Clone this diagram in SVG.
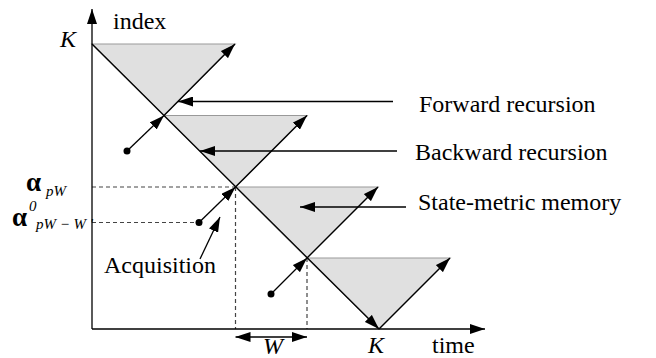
<svg xmlns="http://www.w3.org/2000/svg" width="656" height="358" viewBox="0 0 656 358">
<style>
.t{font-family:"Liberation Serif","Times New Roman",serif;font-size:24px;fill:#000}
.i{font-style:italic}
.a{font-family:"Liberation Serif","Times New Roman",serif;font-size:27px;font-weight:bold}
.s{font-family:"Liberation Serif","Times New Roman",serif;font-size:15px;font-style:italic}
.ln{stroke:#000;stroke-width:1.3;fill:none}
.ar{stroke:#000;stroke-width:1.3;fill:none;marker-end:url(#ah)}
.dash{stroke:#444;stroke-width:1.2;stroke-dasharray:4 3;fill:none}
.tri{fill:#e0e0e0;stroke:#999;stroke-width:1.2}
</style>
<defs>
<marker id="ah" markerUnits="userSpaceOnUse" markerWidth="16" markerHeight="10" refX="15" refY="5" orient="auto">
<path d="M0,0 L15,5 L0,10 z" fill="#000"/>
</marker>
<marker id="as" markerUnits="userSpaceOnUse" markerWidth="16" markerHeight="10" refX="0" refY="5" orient="auto">
<path d="M15,0 L0,5 L15,10 z" fill="#000"/>
</marker>
</defs>
<g id="triangles">
<polygon class="tri" points="92,44 235,44 164,115.5"/>
<polygon class="tri" points="164,115.5 307,115.5 235.5,187"/>
<polygon class="tri" points="235.5,187 378,187 307,258"/>
<polygon class="tri" points="307,258 450,258 379,329"/>
</g>
<g id="connectors">
<line class="dash" x1="92" y1="187" x2="235.5" y2="187"/>
<line class="dash" x1="92" y1="222.5" x2="199" y2="222.5"/>
<line class="dash" x1="235.5" y1="187" x2="235.5" y2="329"/>
<line class="dash" x1="307" y1="258" x2="307" y2="329"/>
<line class="ar" x1="92" y1="329" x2="92" y2="9"/>
<line class="ar" x1="92" y1="329" x2="485" y2="329"/>
<line class="ar" x1="92" y1="44" x2="379" y2="329"/>
<line class="ar" x1="164" y1="115.5" x2="235" y2="44"/>
<line class="ar" x1="235.5" y1="187" x2="307" y2="115.5"/>
<line class="ar" x1="307" y1="258" x2="378" y2="187"/>
<line class="ar" x1="379" y1="329" x2="450" y2="258"/>
<line class="ar" x1="127" y1="151" x2="164" y2="115.5"/>
<line class="ar" x1="199" y1="222.5" x2="235.5" y2="187"/>
<line class="ar" x1="271" y1="294" x2="307" y2="258"/>
<line class="ar" x1="393" y1="101.5" x2="178" y2="101.5"/>
<line class="ar" x1="397" y1="151" x2="200" y2="151"/>
<line class="ar" x1="406" y1="207" x2="300" y2="207"/>
<line class="ar" x1="200" y1="259" x2="220" y2="217"/>
<line class="ln" x1="235.5" y1="337" x2="307" y2="337" marker-start="url(#as)" marker-end="url(#ah)"/>
</g>
<g id="dots">
<circle cx="127" cy="151" r="3.5"/>
<circle cx="199" cy="222.5" r="3.5"/>
<circle cx="271" cy="294" r="3.5"/>
</g>
<g id="labels">
<text class="t" x="113" y="29">index</text>
<text class="t i" x="60" y="47">K</text>
<text class="t i" x="368" y="353">K</text>
<text class="t" x="432" y="353">time</text>
<text class="t i" x="263" y="353.5" font-size="19">W</text>
<text class="t" x="419" y="112">Forward recursion</text>
<text class="t" x="415" y="160">Backward recursion</text>
<text class="t" x="418" y="210">State-metric memory</text>
<text class="t" x="104" y="273">Acquisition</text>
<text class="a" x="26" y="191">α</text>
<text class="s" x="46" y="196">pW</text>
<text class="a" x="12" y="226">α</text>
<text class="s" x="29" y="211" font-style="normal">0</text>
<text class="s" x="36" y="229">pW − W '</text>
</g>
</svg>
